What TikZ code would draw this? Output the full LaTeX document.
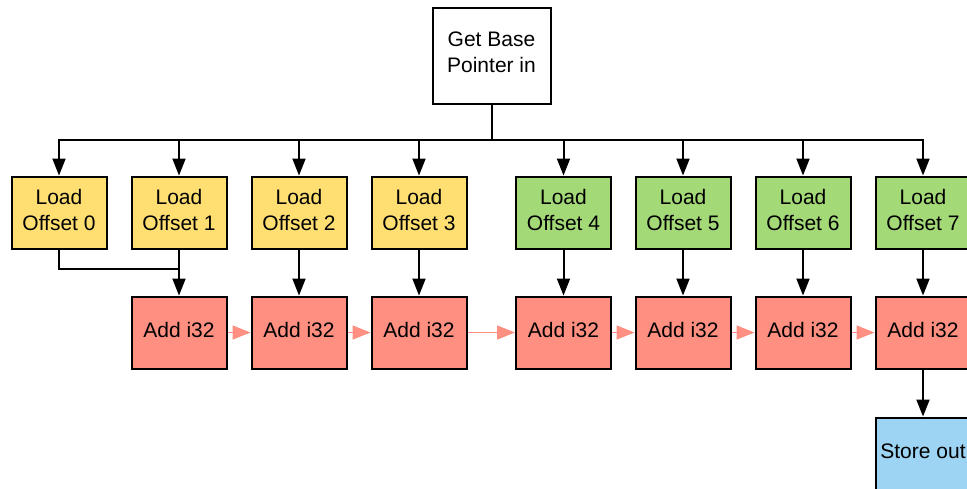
\documentclass[tikz,border=0pt]{standalone}
\usepackage{fontspec}
\setmainfont{Liberation Sans}
\usetikzlibrary{arrows.meta}
\definecolor{cyel}{HTML}{FFDF71}
\definecolor{cgrn}{HTML}{A3D977}
\definecolor{cred}{HTML}{FF8F80}
\definecolor{cblu}{HTML}{9DD3F3}
\definecolor{carr}{HTML}{FF8F80}
\tikzset{
  box/.style={draw=black, line width=2pt, minimum width=95pt, minimum height=72pt,
    inner sep=0pt, align=center, font=\fontsize{21}{26}\selectfont, text=black,
    text depth=5pt},
  loadY/.style={box, fill=cyel},
  loadG/.style={box, fill=cgrn},
  addbox/.style={box, fill=cred},
  storebox/.style={box, fill=cblu},
  topbox/.style={box, fill=white, minimum width=118pt, minimum height=96pt, text depth=6pt},
  conn/.style={draw=black, line width=2pt},
  blk/.style={conn, -{Triangle[width=13pt,length=17pt]}},
  sal/.style={draw=carr, line width=1.5pt, -{Triangle[width=14pt,length=18pt]}},
}
\begin{document}
\begin{tikzpicture}[x=1pt,y=-1pt]
\clip (0,0) rectangle (967,488);
\fill[white] (0,0) rectangle (967,488);
\node[topbox] (top) at (491.5,55.5) {Get Base\\Pointer in};
\node[loadY] (l0) at (59,212.5) {Load\\Offset 0};
\node[loadY] (l1) at (179,212.5) {Load\\Offset 1};
\node[loadY] (l2) at (299,212.5) {Load\\Offset 2};
\node[loadY] (l3) at (419,212.5) {Load\\Offset 3};
\node[loadG] (l4) at (563.5,212.5) {Load\\Offset 4};
\node[loadG] (l5) at (683,212.5) {Load\\Offset 5};
\node[loadG] (l6) at (803,212.5) {Load\\Offset 6};
\node[loadG] (l7) at (923,212.5) {Load\\Offset 7};
\node[addbox] (a1) at (179,332.5) {Add i32};
\node[addbox] (a2) at (299,332.5) {Add i32};
\node[addbox] (a3) at (419,332.5) {Add i32};
\node[addbox] (a4) at (563.5,332.5) {Add i32};
\node[addbox] (a5) at (683,332.5) {Add i32};
\node[addbox] (a6) at (803,332.5) {Add i32};
\node[addbox] (a7) at (923,332.5) {Add i32};
\node[storebox] (st) at (923,453.5) {Store out};
\coordinate (bus) at (491.5,140);
\draw[conn] (top.south) -- (bus);
\foreach \n in {l0,l1,l2,l3,l4,l5,l6,l7}{
  \draw[blk] (bus) -| (\n.north);
}
\coordinate (j) at (179,269);
\draw[conn] (l0.south) |- (j);
\draw[blk] (l1.south) -- (a1.north);
\draw[blk] (l2.south) -- (a2.north);
\draw[blk] (l3.south) -- (a3.north);
\draw[blk] (l4.south) -- (a4.north);
\draw[blk] (l5.south) -- (a5.north);
\draw[blk] (l6.south) -- (a6.north);
\draw[blk] (l7.south) -- (a7.north);
\draw[sal] (a1.east) -- (a2.west);
\draw[sal] (a2.east) -- (a3.west);
\draw[sal] (a3.east) -- (a4.west);
\draw[sal] (a4.east) -- (a5.west);
\draw[sal] (a5.east) -- (a6.west);
\draw[sal] (a6.east) -- (a7.west);
\draw[blk] (a7.south) -- (st.north);
\end{tikzpicture}
\end{document}
